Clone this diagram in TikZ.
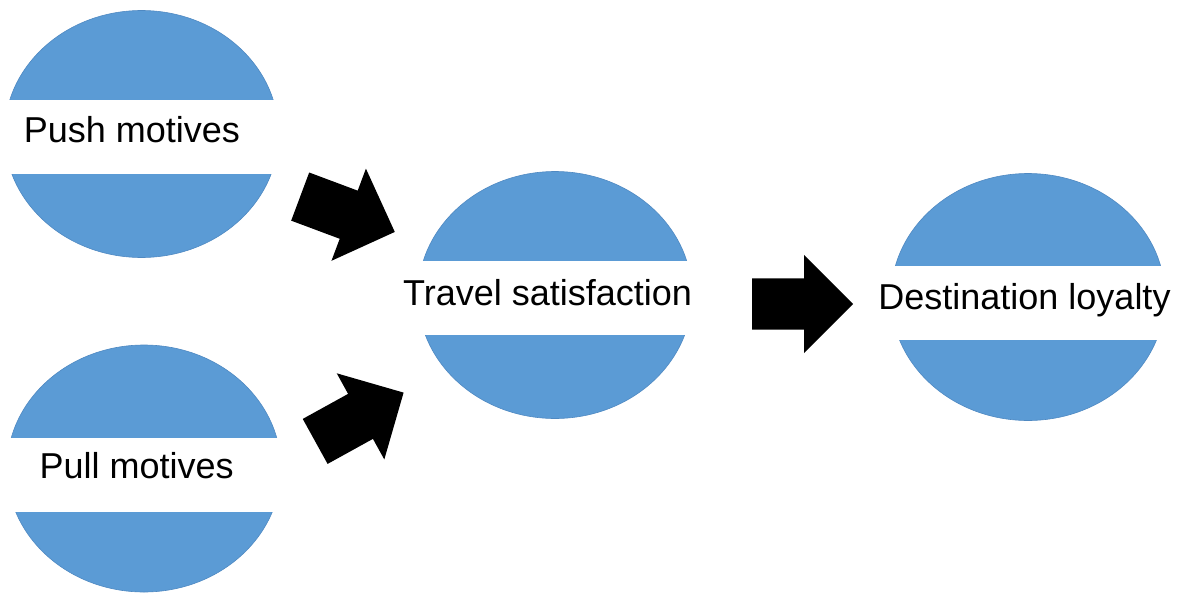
\documentclass[tikz,border=0pt]{standalone}
\usepackage{fontspec}
\setmainfont{Liberation Sans}
\usetikzlibrary{shapes.geometric,shapes.arrows}
\definecolor{ballblue}{HTML}{5B9BD5}
\definecolor{balledge}{HTML}{4F89C2}
\tikzset{
  ball/.style={ellipse, fill=ballblue, draw=balledge, line width=0.6pt, inner sep=0pt,
    minimum width=274pt, minimum height=247pt},
  band/.style={rectangle, fill=white, inner sep=0pt, minimum width=280pt, minimum height=74pt},
  lbl/.style={anchor=base, inner sep=0pt, font=\fontsize{36}{40}\selectfont},
  blockarrow/.style={single arrow, fill=black, draw=none, inner xsep=0pt, inner ysep=25.5pt,
    single arrow head extend=23.5pt, minimum height=101pt, single arrow tip angle=90, anchor=tail}
}
\begin{document}
\begin{tikzpicture}[x=1pt,y=-1pt]
\useasboundingbox (0,0) rectangle (1180,592);
% ellipses
\node[ball] (push) at (141.5,134) {};
\node[ball] (pull) at (144,468.5) {};
\node[ball] (trav) at (555,295) {};
\node[ball] (dest) at (1028,297) {};
% white bands
\node[band] (pushband) at (141.5,137) {};
\node[band] (pullband) at (144,474.5) {};
\node[band] (travband) at (555,298) {};
\node[band] (destband) at (1028,302.5) {};
% labels
\node[lbl] (pushlbl) at (132,142.7) {Push motives};
\node[lbl] (pulllbl) at (136.7,478) {Pull motives};
\node[lbl] (travlbl) at (547.5,305) {Travel satisfaction};
\node[lbl] (destlbl) at (1024.5,309) {Destination loyalty};
% block arrows
\node[blockarrow, rotate=-20.5] (a1) at (300,196.5) {};
\node[blockarrow, rotate=28.9] (a2) at (315,441.5) {};
\node[blockarrow] (a3) at (752,304) {};
\end{tikzpicture}
\end{document}
